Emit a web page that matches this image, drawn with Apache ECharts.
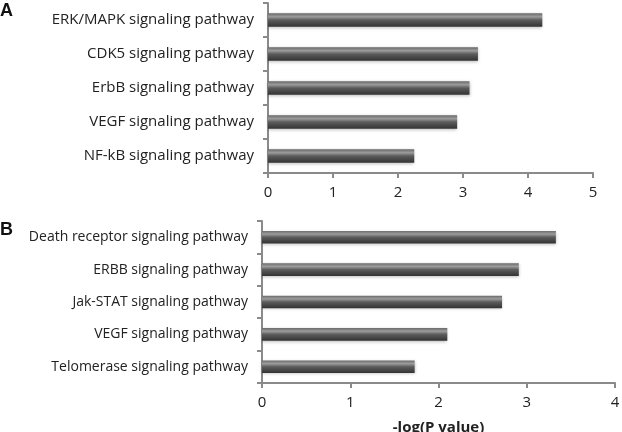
<!DOCTYPE html>
<html>
<head>
<meta charset="utf-8">
<script src="https://cdn.jsdelivr.net/npm/echarts@6/dist/echarts.min.js"></script>
<style>
  html, body { margin: 0; padding: 0; background: #fff; }
  #chart { width: 622px; height: 432px; }
</style>
</head>
<body>
<div id="chart"></div>
<script>
// panel A
var pathwaysA = ['ERK/MAPK signaling pathway', 'CDK5 signaling pathway', 'ErbB signaling pathway',
  'VEGF signaling pathway', 'NF-kB signaling pathway']
var valuesA = [4.22, 3.23, 3.10, 2.91, 2.25]
var ticksA = { min: 0, max: 5, interval: 1 }

// panel B
var pathwaysB = ['Death receptor signaling pathway', 'ERBB signaling pathway', 'Jak-STAT signaling pathway',
  'VEGF signaling pathway', 'Telomerase signaling pathway']
var valuesB = [3.33, 2.91, 2.72, 2.10, 1.73]
var ticksB = { min: 0, max: 4, interval: 1 }

var font = 'Open Sans'
var axisColor = '#8a8a8a'
var textColor = '#222'

var barColor = new echarts.graphic.LinearGradient(0, 0, 0, 1, [
  { offset: 0, color: '#6a6a6a' },
  { offset: 0.25, color: '#9c9c9c' },
  { offset: 0.5, color: '#5c5c5c' },
  { offset: 1, color: '#333' }
])

function valueAxis(gridIndex, ticks, fontSize, name) {
  return {
    type: 'value',
    gridIndex: gridIndex,
    min: ticks.min,
    max: ticks.max,
    interval: ticks.interval,
    name: name || '',
    nameLocation: 'middle',
    nameGap: 37,
    nameTextStyle: { color: textColor, fontFamily: font, fontSize: 15, fontWeight: 'bold' },
    axisLine: { show: true, lineStyle: { color: axisColor, width: 2 } },
    axisTick: { show: true, length: 5, lineStyle: { color: axisColor, width: 2 } },
    splitLine: { show: false },
    axisLabel: { margin: 12, color: textColor, fontFamily: font, fontSize: fontSize }
  }
}

function catAxis(gridIndex, cats, fontSize) {
  return {
    type: 'category',
    gridIndex: gridIndex,
    inverse: true,
    data: cats,
    axisLine: { show: true, lineStyle: { color: axisColor, width: 2 } },
    axisTick: { show: true, length: 5, lineStyle: { color: axisColor, width: 2 } },
    axisLabel: { margin: 14, color: textColor, fontFamily: font, fontSize: fontSize }
  }
}

function barSeries(idx, data) {
  return {
    type: 'bar',
    xAxisIndex: idx,
    yAxisIndex: idx,
    data: data,
    barWidth: '39%',
    itemStyle: {
      color: barColor,
      shadowColor: 'rgba(0,0,0,0.25)',
      shadowBlur: 3,
      shadowOffsetY: 1
    }
  }
}

var chart = echarts.init(document.getElementById('chart'), null, { renderer: 'canvas' })
var option = {
  backgroundColor: '#fff',
  animation: false,
  title: [
    { text: 'A', left: 0, top: 2, padding: 0, textStyle: { fontFamily: 'Liberation Sans', fontSize: 18, fontWeight: 'bold', color: '#111' } },
    { text: 'B', left: 0, top: 221, padding: 0, textStyle: { fontFamily: 'Liberation Sans', fontSize: 18, fontWeight: 'bold', color: '#111' } }
  ],
  grid: [
    { left: 268, top: 3, width: 325, height: 170, containLabel: false, outerBoundsMode: 'none' },
    { left: 262, top: 221, width: 353, height: 162, containLabel: false, outerBoundsMode: 'none' }
  ],
  xAxis: [valueAxis(0, ticksA, 15), valueAxis(1, ticksB, 15, '-log(P value)')],
  yAxis: [catAxis(0, pathwaysA, 15), catAxis(1, pathwaysB, 14)],
  series: [barSeries(0, valuesA), barSeries(1, valuesB)]
}
chart.setOption(option)
</script>
</body>
</html>
